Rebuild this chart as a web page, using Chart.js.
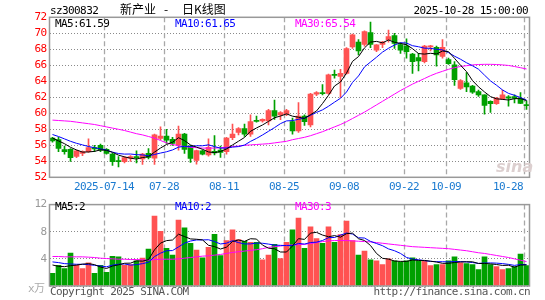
<!DOCTYPE html>
<html>
<head>
<meta charset="utf-8">
<script src="https://cdn.jsdelivr.net/npm/chart.js@4.4.0/dist/chart.umd.min.js"></script>
<style>
  body { margin: 0; background: #fff; }
  #wrap { position: relative; width: 545px; height: 300px; overflow: hidden;
          font-family: "DejaVu Sans Mono", monospace; font-size: 11px; letter-spacing: -0.6px; }
  canvas { position: absolute; left: 0; }
  .t { position: absolute; white-space: pre; line-height: 12px; }
  .cjk { font-family: "Noto Sans CJK SC", sans-serif; font-size: 12px; letter-spacing: 0; }
</style>
</head>
<body>
<div id="wrap">
  <canvas id="kline" width="545" height="195" style="top:0"></canvas>
  <canvas id="vol" width="545" height="105" style="top:195px"></canvas>

  <div class="t" style="left:50px;top:5px">sz300832</div>
  <div class="t cjk" style="left:120px;top:3px">新产业</div>
  <div class="t cjk" style="left:164px;top:3px">-</div>
  <div class="t cjk" style="left:182px;top:3px">日K线图</div>
  <div class="t" style="right:17px;top:5px">2025-10-28 15:00:00</div>

  <div class="t" style="left:55px;top:18px;color:#000">MA5:61.59</div>
  <div class="t" style="left:175px;top:18px;color:#0000ff">MA10:61.65</div>
  <div class="t" style="left:295px;top:18px;color:#ff00ff">MA30:65.54</div>

  <div class="t" style="left:496px;top:157px;font:italic bold 16px 'DejaVu Sans';letter-spacing:0;color:#dccfcf">sina</div>

  <div class="t" style="left:55px;top:201px;color:#000">MA5:2</div>
  <div class="t" style="left:175px;top:201px;color:#0000ff">MA10:2</div>
  <div class="t" style="left:295px;top:201px;color:#ff00ff">MA30:3</div>

  <div class="t" style="left:28px;top:281px;color:#aaa">x<span class="cjk" style="font-size:11px">万</span></div>
  <div class="t" style="left:50px;top:286px;color:#555">Copyright 2025 SINA.COM</div>
  <div class="t" style="right:15px;top:286px;color:#555">http://finance.sina.com.cn</div>
</div>

<script>
// trading days shown (2025)
const dates = [
  '07-01','07-02','07-03','07-04','07-07','07-08','07-09','07-10','07-11','07-14',
  '07-15','07-16','07-17','07-18','07-21','07-22','07-23','07-24','07-25','07-28',
  '07-29','07-30','07-31','08-01','08-04','08-05','08-06','08-07','08-08','08-11',
  '08-12','08-13','08-14','08-15','08-18','08-19','08-20','08-21','08-22','08-25',
  '08-26','08-27','08-28','08-29','09-01','09-02','09-03','09-04','09-05','09-08',
  '09-09','09-10','09-11','09-12','09-15','09-16','09-17','09-18','09-19','09-22',
  '09-23','09-24','09-25','09-26','09-29','09-30','10-09','10-10','10-13','10-14',
  '10-15','10-16','10-17','10-20','10-21','10-22','10-23','10-24','10-27','10-28'
];

const openP = [
  56.90,56.70,55.45,55.50,54.60,55.00,55.20,55.70,56.00,55.50,
  54.90,54.05,53.95,54.40,54.60,54.30,55.00,54.40,56.85,57.15,
  56.75,56.05,57.40,55.90,54.10,55.30,54.80,55.25,55.40,55.20,
  56.95,57.60,58.10,57.40,59.10,59.05,59.05,60.35,59.80,59.90,
  58.95,57.80,59.65,58.55,62.40,62.55,62.50,64.85,64.60,65.00,
  68.30,68.90,68.60,70.10,67.90,68.60,69.20,69.70,68.60,68.40,
  67.40,66.95,66.45,68.30,68.25,67.10,66.70,66.05,63.10,63.80,
  63.40,62.70,62.30,61.50,61.20,61.80,62.05,62.10,61.85,61.05
];
const highP = [
  57.00,57.00,55.90,55.60,55.40,55.30,56.80,56.00,56.15,55.60,
  55.00,54.60,54.60,54.70,55.30,55.00,55.60,57.40,58.30,58.00,
  57.00,58.40,57.50,56.00,55.40,55.40,56.80,57.20,55.90,57.00,
  58.65,58.20,58.65,59.80,59.65,59.30,60.50,61.65,60.20,60.50,
  59.40,61.35,59.80,62.50,62.70,63.60,64.90,65.40,65.50,68.20,
  69.90,69.20,70.30,71.40,68.60,69.00,70.40,70.00,68.80,69.30,
  67.50,67.50,68.50,68.50,68.40,69.20,66.90,66.45,64.20,65.10,
  63.50,62.90,62.30,61.55,62.00,62.90,62.20,62.30,62.60,61.55
];
const lowP = [
  56.40,55.20,54.90,54.00,54.45,54.70,55.10,55.20,55.20,54.90,
  53.50,53.30,53.80,54.00,53.80,53.60,54.30,53.60,56.70,56.25,
  56.00,55.40,55.00,53.85,53.65,54.80,54.65,54.80,54.50,54.90,
  56.70,57.30,57.10,57.10,58.90,58.90,58.55,59.25,59.20,59.70,
  57.40,57.60,58.50,58.30,62.20,62.30,62.40,64.40,62.00,64.90,
  68.10,67.30,68.40,68.20,67.70,68.20,68.90,68.10,67.50,66.90,
  65.00,65.30,66.30,67.80,65.90,66.90,66.10,63.50,63.00,62.70,
  62.50,62.10,59.90,60.10,61.10,61.70,60.90,61.30,61.20,60.50
];
const closeP = [
  56.55,55.60,55.20,54.45,55.30,55.20,55.70,55.55,55.40,55.00,
  53.95,53.95,54.45,54.60,54.45,54.90,54.50,57.30,57.15,56.65,
  56.25,57.40,55.50,54.35,55.35,54.90,55.75,55.05,55.10,56.90,
  57.40,58.10,57.40,58.95,59.00,59.25,60.35,59.65,60.10,60.35,
  57.80,59.65,58.95,62.40,62.60,62.45,64.80,64.75,65.00,68.10,
  69.80,67.80,70.20,68.60,68.55,68.90,69.60,68.75,67.90,67.70,
  66.45,66.55,68.40,68.40,67.30,68.25,66.20,64.20,64.10,63.30,
  62.65,62.30,61.00,61.20,61.90,62.30,61.90,61.85,61.25,60.95
];

const ma5 = [
  56.90,56.55,56.20,55.75,55.42,55.15,55.17,55.24,55.43,55.37,
  55.12,54.77,54.55,54.39,54.28,54.47,54.58,55.15,55.66,56.10,
  56.37,56.95,56.59,56.04,55.77,55.50,55.17,55.08,55.23,55.54,
  56.04,56.51,56.98,57.75,58.17,58.54,58.99,59.44,59.66,59.93,
  59.64,59.51,59.36,59.83,60.29,61.22,62.25,63.41,63.92,65.02,
  66.49,67.09,68.18,68.90,68.99,68.81,69.17,68.88,68.74,68.57,
  68.08,67.47,67.40,67.50,67.42,67.78,67.71,66.87,66.01,65.21,
  64.09,63.31,62.67,62.09,61.81,61.74,61.66,61.83,61.84,61.59
];
const ma10 = [
  57.35,57.10,56.80,56.50,56.25,56.05,55.85,55.70,55.55,55.40,
  55.14,54.97,54.90,54.91,54.83,54.80,54.68,54.85,55.03,55.19,
  55.42,55.77,55.87,55.85,55.94,55.94,56.06,55.84,55.64,55.66,
  55.77,55.84,56.03,56.49,56.86,57.29,57.75,58.21,58.71,59.05,
  59.09,59.25,59.40,59.75,60.11,60.43,60.88,61.39,61.88,62.66,
  63.86,64.67,65.80,66.41,67.01,67.65,68.13,68.53,68.82,68.78,
  68.45,68.32,68.14,68.12,68.00,67.93,67.59,67.14,66.76,66.32,
  65.94,65.51,64.77,64.05,63.51,62.92,62.49,62.25,61.97,61.65
];
const ma30 = [
  59.15,59.10,59.05,59.00,58.90,58.80,58.70,58.60,58.45,58.30,
  58.15,58.00,57.85,57.65,57.45,57.30,57.10,56.90,56.60,56.30,
  56.10,55.95,55.85,55.75,55.70,55.65,55.65,55.65,55.70,55.75,
  55.85,55.90,56.00,56.05,56.10,56.15,56.20,56.30,56.40,56.50,
  56.70,56.85,57.00,57.20,57.45,57.70,58.00,58.30,58.60,58.95,
  59.35,59.75,60.15,60.60,61.05,61.50,61.95,62.40,62.85,63.25,
  63.65,64.00,64.35,64.70,65.00,65.25,65.50,65.70,65.85,65.95,
  66.05,66.10,66.12,66.12,66.10,66.05,65.98,65.85,65.70,65.54
];

const volume = [
  1.86,3.05,2.57,4.86,3.05,2.57,3.43,1.86,3.05,2.00,
  4.38,4.29,3.05,3.14,3.71,4.10,5.43,10.29,8.05,5.57,
  4.57,9.71,8.57,6.29,5.29,4.14,5.71,7.62,4.48,6.71,
  8.29,6.86,6.57,6.43,6.43,3.86,4.57,6.14,4.05,6.43,
  8.29,10.00,5.57,8.71,7.00,6.29,8.71,6.43,7.57,9.57,
  6.70,4.57,5.14,3.86,3.71,3.14,4.00,3.71,3.57,3.71,
  4.14,3.71,3.71,3.00,3.14,3.14,3.71,4.29,3.43,3.29,
  3.14,2.43,4.29,3.14,2.86,2.43,2.57,2.86,4.71,3.00
];
const volMa5 = [
  3.10,2.90,2.85,3.00,3.08,3.22,3.30,3.15,2.79,2.58,
  2.94,3.12,3.35,3.37,3.71,3.66,3.89,5.33,6.32,6.69,
  6.78,7.64,7.29,6.94,6.89,6.80,6.00,5.81,5.45,5.73,
  6.56,6.79,6.58,6.97,6.92,6.03,5.57,5.49,5.01,5.01,
  5.90,6.98,6.87,7.80,7.91,7.51,7.26,7.43,7.20,7.71,
  7.80,6.97,6.71,5.97,4.80,4.08,3.97,3.68,3.63,3.63,
  3.83,3.77,3.77,3.65,3.54,3.34,3.34,3.46,3.54,3.57,
  3.57,3.32,3.32,3.26,3.17,3.03,3.06,2.77,3.09,3.11
];
const volMa10 = [
  3.55,3.45,3.30,3.25,3.20,3.20,3.15,3.05,2.95,2.83,
  3.08,3.21,3.25,3.08,3.15,3.30,3.50,4.34,4.84,5.20,
  5.22,5.76,6.31,6.63,6.79,6.79,6.82,6.55,6.20,6.31,
  6.68,6.40,6.20,6.21,6.32,6.30,6.18,6.03,5.99,5.96,
  5.96,6.28,6.18,6.41,6.46,6.71,7.12,7.15,7.50,7.81,
  7.66,7.11,7.07,6.58,6.26,5.94,5.47,5.20,4.80,4.21,
  3.96,3.87,3.73,3.64,3.58,3.58,3.55,3.61,3.60,3.56,
  3.46,3.33,3.39,3.40,3.37,3.30,3.19,3.04,3.17,3.14
];
const volMa30 = [
  4.35,4.35,4.30,4.30,4.30,4.30,4.25,4.20,4.10,4.05,
  4.00,3.95,3.95,3.90,3.90,3.85,3.80,3.90,3.95,3.95,
  3.95,4.00,4.10,4.20,4.30,4.40,4.45,4.55,4.65,4.80,
  4.95,5.05,5.15,5.25,5.35,5.50,5.70,5.80,5.90,6.00,
  6.05,6.10,6.15,6.25,6.40,6.55,6.65,6.70,6.70,6.70,
  6.65,6.60,6.55,6.50,6.40,6.30,6.20,6.10,6.00,5.90,
  5.80,5.75,5.70,5.65,5.60,5.55,5.50,5.40,5.30,5.20,
  5.05,4.90,4.80,4.65,4.50,4.35,4.20,4.00,3.80,3.60
];

const priceTicks = [52, 54, 56, 58, 60, 62, 64, 66, 68, 70, 72];
const volTicks = [0, 4, 8, 12];
const axisDates = ['07-14', '07-28', '08-11', '08-25', '09-08', '09-22', '10-09', '10-28'];
const axisLabels = ['2025-07-14', '07-28', '08-11', '08-25', '09-08', '09-22', '10-09', '10-28'];

const UP = '#ff5252';
const DOWN = '#00a000';
const candleColor = closeP.map((c, i) => (c >= openP[i] ? UP : DOWN));
const gridIdx = axisDates.map(d => dates.indexOf(d));
const MONO = '"DejaVu Sans Mono", monospace';

// dashed date lines and the grey frame of a panel
const panelGrid = {
  id: 'panelGrid',
  beforeDatasetsDraw(chart) {
    const { ctx, chartArea: a } = chart;
    const x = chart.scales.x;
    ctx.save();
    ctx.strokeStyle = '#a8a8a8';
    ctx.setLineDash([5, 3]);
    ctx.lineWidth = 1.3;
    gridIdx.forEach(i => {
      const px = Math.round(x.getPixelForValue(i) - 2.5) + 0.5;
      ctx.beginPath(); ctx.moveTo(px, a.top); ctx.lineTo(px, a.bottom); ctx.stroke();
    });
    ctx.restore();
  },
  afterDatasetsDraw(chart) {
    const { ctx, chartArea: a } = chart;
    ctx.save();
    ctx.strokeStyle = '#999';
    ctx.lineWidth = 1.5;
    ctx.strokeRect(a.left, a.top, a.right - a.left, a.bottom - a.top);
    ctx.restore();
  }
};

// date labels under the price panel, centred on the dashed lines
const dateLabels = {
  id: 'dateLabels',
  afterDraw(chart) {
    const { ctx, chartArea: a, scales: { x } } = chart;
    ctx.save();
    ctx.font = '11px ' + MONO;
    ctx.letterSpacing = '-0.6px';
    ctx.fillStyle = '#1a7ad0';
    ctx.textBaseline = 'middle';
    ctx.textAlign = 'left';
    gridIdx.forEach((idx, k) => {
      const px = x.getPixelForValue(idx) - 2.5;
      const w = ctx.measureText(axisLabels[k]).width;
      let left = px - w / 2;
      if (left + w > a.right - 2) left = px - w - 1;
      ctx.fillText(axisLabels[k], left, a.bottom + 9.5);
    });
    ctx.restore();
  }
};

function lineSet(data, color) {
  return { type: 'line', data, borderColor: color, borderWidth: 1, pointRadius: 0,
           tension: 0, fill: false, order: 0 };
}

// y axis with fixed ticks; its own grid gives the dotted horizontal lines
function yAxis(ticks, color, min, max) {
  return {
    min, max,
    afterBuildTicks: s => { s.ticks = ticks.map(v => ({ value: v })); },
    afterFit: s => { s.width = 49.5; },
    grid: { display: true, drawTicks: false, color: '#8a8a8a', lineWidth: 1 },
    border: { display: false, dash: [1, 2] },
    ticks: { color, padding: 3, autoSkip: false, font: { family: MONO, size: 11 },
             callback: v => (v === 0 ? '' : String(v)) }
  };
}

const common = {
  responsive: false,
  animation: false,
  devicePixelRatio: 1,
  plugins: { legend: { display: false }, tooltip: { enabled: false } }
};

new Chart(document.getElementById('kline'), {
  type: 'bar',
  data: {
    labels: dates,
    datasets: [
      lineSet(ma5, '#000000'),
      lineSet(ma10, '#0000ff'),
      lineSet(ma30, '#ff00ff'),
      { type: 'bar', data: openP.map((o, i) => [o, closeP[i]]), backgroundColor: candleColor,
        barThickness: 5, minBarLength: 1, grouped: false, order: 2 },
      { type: 'bar', data: lowP.map((l, i) => [l, highP[i]]), backgroundColor: candleColor,
        barThickness: 1, grouped: false, order: 3 }
    ]
  },
  options: {
    ...common,
    layout: { padding: { top: 17.3, bottom: 17.7, left: 0, right: 15.5 } },
    scales: {
      x: { display: false, offset: true },
      y: yAxis(priceTicks, '#ff0000', 52, 72)
    }
  },
  plugins: [panelGrid, dateLabels]
});

new Chart(document.getElementById('vol'), {
  type: 'bar',
  data: {
    labels: dates,
    datasets: [
      lineSet(volMa5, '#000000'),
      lineSet(volMa10, '#0000ff'),
      lineSet(volMa30, '#ff00ff'),
      { type: 'bar', data: volume, backgroundColor: candleColor, barThickness: 5,
        grouped: false, order: 2 }
    ]
  },
  options: {
    ...common,
    layout: { padding: { top: 7, bottom: 14, left: 0, right: 15.5 } },
    scales: {
      x: { display: false, offset: true },
      y: yAxis(volTicks, '#999999', 0, 12)
    }
  },
  plugins: [panelGrid]
});
</script>
</body>
</html>
